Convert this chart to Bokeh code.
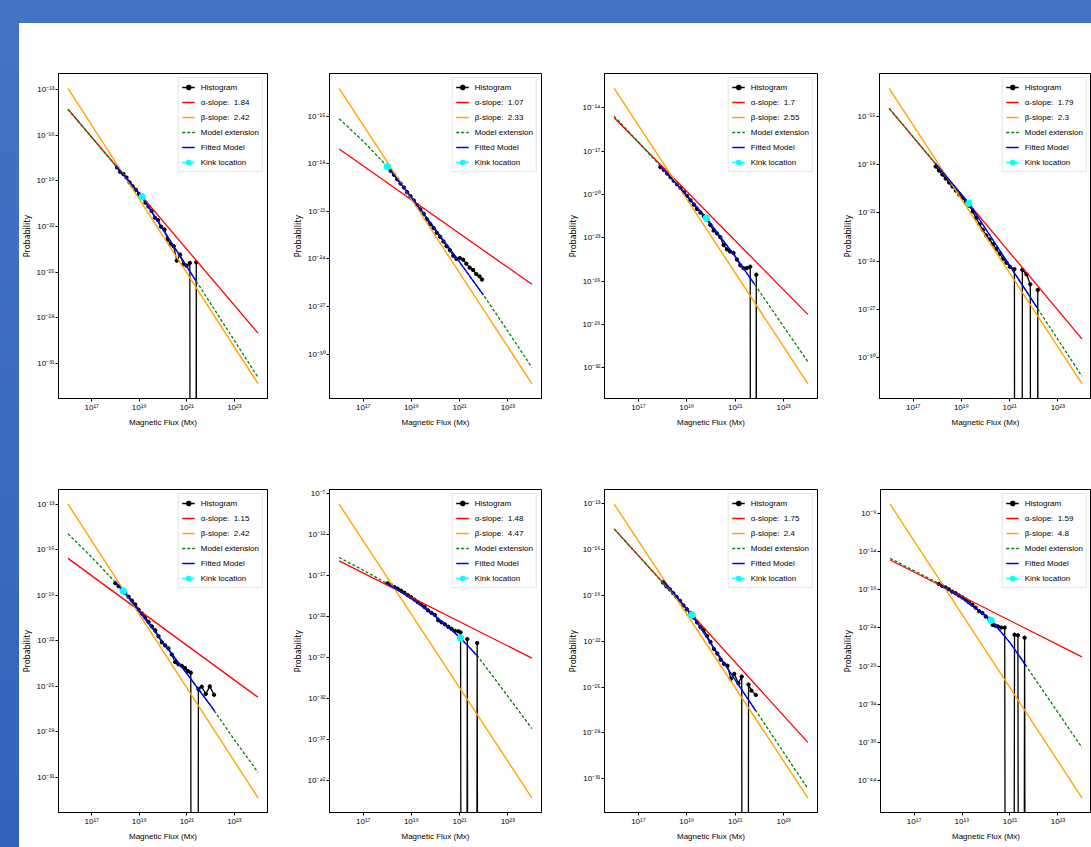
import numpy as np
from bokeh.plotting import figure
from bokeh.models import Range1d, FixedTicker, Legend, LegendItem, Spacer
from bokeh.layouts import row, column
from bokeh.embed import file_html
from bokeh.resources import INLINE

FONT = "Liberation Sans"
YFONT = "DejaVu Sans"

# ---------------- data (log10 exponents) ----------------
LINE_X = [16, 24]                 # x-extent (log10 Mx) of slope lines / model
X_TICKS = [17, 19, 21, 23]

ALPHA = ["1.84", "1.07", "1.7", "1.79", "1.15", "1.48", "1.75", "1.59"]
BETA = ["2.42", "2.33", "2.55", "2.3", "2.42", "4.47", "2.4", "4.8"]

# alpha (red) and beta (orange) reference lines: log10 P at x=1e16 and x=1e24
RED_Y = [[-14.3, -29.0], [-17.07, -25.6], [-14.69, -28.3], [-14.47, -28.85],
         [-16.57, -25.72], [-15.27, -27.12], [-14.64, -28.62], [-15.12, -27.78]]
ORANGE_Y = [[-12.92, -32.32], [-13.24, -31.87], [-12.65, -33.1], [-13.22, -31.65],
            [-13.0, -32.34], [-8.35, -44.15], [-13.02, -32.25], [-7.82, -46.2]]

# model extension (green dashed)
MODEL_X = [[16, 19.12, 24],
           [16, 17, 18, 19.08, 20, 21, 22, 23, 24],
           [16, 17, 18, 19, 19.81, 20, 21, 22, 23, 24],
           [16, 19.31, 24],
           [16, 17, 18, 18.33, 19, 20, 21, 22, 23, 24],
           [16, 17, 18.01, 19, 20, 21.04, 21.77, 22, 23, 24],
           [16, 19.21, 24],
           [16, 17, 18.03, 19, 20, 20.21, 21, 21.67, 22, 23, 24]]
MODEL_Y = [[-14.3, -20.05, -31.9],
           [-15.16, -16.58, -18.17, -20.28, -22.15, -24.2, -26.3, -28.55, -30.84],
           [-14.58, -16.38, -18.2, -20.07, -21.64, -22.02, -24.3, -26.7, -29.15, -31.57],
           [-14.47, -20.39, -31.18],
           [-14.94, -16.5, -18.15, -18.72, -20.05, -22.1, -24.15, -26.25, -28.5, -30.67],
           [-14.85, -16.4, -18.04, -19.85, -22.0, -24.67, -26.96, -27.86, -31.76, -35.71],
           [-14.64, -20.27, -31.65],
           [-14.91, -16.5, -18.19, -20.1, -22.45, -23.0, -25.92, -28.94, -30.45, -35.05, -39.63]]

# fitted model (blue)
FIT_X = [[18.03, 19.12, 21.4],
         [18.0, 19.08, 20, 21, 21.99],
         [17.91, 19, 19.81, 21, 21.81],
         [17.93, 19.31, 22.14],
         [17.99, 18.33, 19, 20, 21, 22, 22.17],
         [18.01, 19, 20, 21.04, 21.77],
         [18.02, 19.21, 21.85],
         [18.03, 19, 20, 20.21, 21, 21.67]]
FIT_Y = [[-18.04, -20.05, -25.6],
         [-18.17, -20.28, -22.15, -24.2, -26.28],
         [-18.04, -20.07, -21.64, -24.3, -26.24],
         [-17.92, -20.39, -26.9],
         [-18.13, -18.72, -20.05, -22.1, -24.15, -26.25, -26.62],
         [-18.04, -19.85, -22.0, -24.67, -26.96],
         [-18.0, -20.27, -26.55],
         [-18.19, -20.1, -22.45, -23.0, -25.92, -28.94]]

# kink location (cyan)
KINK_X = [19.12, 18.0, 19.81, 19.31, 18.33, 21.04, 19.21, 20.21]
KINK_Y = [-20.05, -18.17, -21.64, -20.39, -18.72, -24.67, -20.27, -23.0]

# histograms (None = empty bin, probability 0)
HIST_X = [
    [18.06, 18.19, 18.33, 18.46, 18.59, 18.72, 18.86, 18.99, 19.12, 19.26, 19.39, 19.52, 19.66, 19.79,
     19.92, 20.06, 20.19, 20.32, 20.45, 20.58, 20.72, 20.86, 20.99, 21.13, 21.26, 21.40, 21.53],
    [18.00, 18.14, 18.28, 18.41, 18.55, 18.69, 18.82, 18.96, 19.10, 19.23, 19.37, 19.51, 19.64, 19.78,
     19.92, 20.05, 20.19, 20.33, 20.46, 20.60, 20.74, 20.87, 21.01, 21.15, 21.28, 21.42, 21.56, 21.69,
     21.83, 21.93],
    [17.91, 18.05, 18.19, 18.33, 18.46, 18.60, 18.74, 18.88, 19.01, 19.15, 19.29, 19.42, 19.56, 19.70,
     19.84, 19.97, 20.11, 20.25, 20.38, 20.52, 20.66, 20.79, 20.93, 21.07, 21.21, 21.34, 21.48, 21.62,
     21.75, 21.87, 22.0],
    [17.93, 18.07, 18.21, 18.35, 18.49, 18.63, 18.77, 18.91, 19.05, 19.19, 19.33, 19.47, 19.61, 19.75,
     19.89, 20.03, 20.17, 20.31, 20.45, 20.59, 20.73, 20.87, 21.01, 21.20, 21.37, 21.53, 21.70, 21.86,
     22.01, 22.17, 22.32],
    [17.99, 18.13, 18.27, 18.41, 18.55, 18.69, 18.83, 18.97, 19.11, 19.25, 19.39, 19.53, 19.67, 19.81,
     19.95, 20.09, 20.23, 20.37, 20.51, 20.65, 20.79, 20.93, 21.05, 21.17, 21.32, 21.49, 21.63, 21.80,
     21.97, 22.15],
    [18.01, 18.15, 18.29, 18.43, 18.57, 18.71, 18.85, 18.99, 19.13, 19.27, 19.41, 19.55, 19.69, 19.83,
     19.97, 20.11, 20.25, 20.39, 20.53, 20.67, 20.81, 20.95, 21.04, 21.18, 21.32, 21.46, 21.6, 21.73,
     21.87],
    [18.02, 18.16, 18.30, 18.44, 18.58, 18.72, 18.86, 19.0, 19.14, 19.28, 19.42, 19.56, 19.70, 19.84,
     19.98, 20.12, 20.26, 20.40, 20.54, 20.68, 20.82, 20.96, 21.13, 21.27, 21.41, 21.55, 21.67, 21.85],
    [18.03, 18.17, 18.31, 18.45, 18.59, 18.73, 18.87, 19.01, 19.15, 19.29, 19.43, 19.57, 19.71, 19.85,
     19.99, 20.13, 20.28, 20.38, 20.50, 20.64, 20.78, 20.92, 21.05, 21.19, 21.33, 21.47, 21.61, 21.75],
]
HIST_Y = [
    [-18.11, -18.4, -18.55, -18.78, -19.1, -19.35, -19.59, -19.87, -20.05, -20.43, -20.69, -20.98, -21.42,
     -21.57, -22.01, -22.19, -22.85, -23.14, -23.29, -24.24, -23.84, -24.46, -24.57, -24.39, None, -24.35, None],
    [-18.17, -18.45, -18.7, -18.98, -19.25, -19.5, -19.8, -20.05, -20.32, -20.6, -20.88, -21.15, -21.5,
     -21.8, -22.05, -22.35, -22.6, -22.9, -23.2, -23.45, -23.8, -24.0, -23.95, -24.05, -24.3, -24.55, -24.7,
     -24.95, -25.1, -25.3],
    [-18.1, -18.3, -18.55, -18.8, -19.05, -19.3, -19.55, -19.85, -20.1, -20.4, -20.7, -21.0, -21.25, -21.5,
     -21.75, -22.1, -22.5, -22.7, -22.95, -23.5, -23.8, -23.95, -24.05, -24.5, -24.9, -25.1, -25.1, -25.0,
     None, -25.55, None],
    [-18.1, -18.35, -18.6, -18.85, -19.1, -19.35, -19.6, -19.85, -20.05, -20.3, -20.55, -20.9, -21.3, -21.7,
     -22.05, -22.4, -22.65, -22.95, -23.25, -23.55, -23.85, -24.1, -24.35, -24.5, None, -24.54, -24.82,
     -25.45, None, -25.8, None],
    [-18.2, -18.4, -18.65, -18.85, -19.1, -19.35, -19.6, -19.95, -20.2, -20.45, -20.75, -21.05, -21.3, -21.7,
     -22.1, -22.3, -22.5, -22.9, -23.4, -23.55, -23.65, -23.8, -24.0, -24.1, None, -25.17, -25.02, -25.5,
     -25.0, -25.55],
    [-18.0, -18.2, -18.45, -18.65, -18.9, -19.15, -19.45, -19.7, -20.0, -20.3, -20.55, -20.9, -21.3, -21.6,
     -21.85, -22.5, -22.75, -23.0, -23.3, -23.55, -23.8, -23.85, -23.98, None, -24.8, None, None, -25.28, None],
    [-18.15, -18.4, -18.6, -18.85, -19.1, -19.35, -19.65, -19.9, -20.15, -20.45, -20.75, -21.05, -21.25,
     -21.65, -22.05, -22.5, -22.8, -23.2, -23.48, -23.6, -24.46, -24.13, -24.75, -24.31, None, -24.83,
     -25.23, -25.51],
    [-18.25, -18.5, -18.7, -18.95, -19.25, -19.45, -19.75, -20.0, -20.3, -20.65, -20.95, -21.35, -21.8,
     -22.05, -22.5, -22.8, -23.6, -23.7, -23.8, -23.95, -23.95, None, None, -24.88, -24.96, None, -25.27, None],
]

Y_TICKS = [[-13, -16, -19, -22, -25, -28, -31],
           [-15, -18, -21, -24, -27, -30],
           [-14, -17, -20, -23, -26, -29, -32],
           [-15, -18, -21, -24, -27, -30],
           [-13, -16, -19, -22, -25, -28, -31],
           [-7, -12, -17, -22, -27, -32, -37, -42],
           [-13, -16, -19, -22, -25, -28, -31],
           [-9, -14, -19, -24, -29, -34, -39, -44]]

# ---------------- layout geometry ----------------
COLS = [(271, 34, 23), (275, 37, 24), (275, 38, 23), (251, 37, 0)]   # width, border left, border right
ROWS = [(422, 50, 47), (402, 44, 35)]                                 # height, border top, border bottom

SUP = str.maketrans("-0123456789", "⁻⁰¹²³⁴⁵⁶⁷⁸⁹")
FLOOR = 1e-300   # where an empty (zero) bin is drawn on the log axis


def p10(v):
    return [10.0 ** e for e in v]


def lab(e):
    return "10" + str(e).translate(SUP)


def build(i, w, bl, br, h, bt, bb):
    hx, hy = HIST_X[i], HIST_Y[i]
    logs = RED_Y[i] + ORANGE_Y[i] + MODEL_Y[i] + FIT_Y[i] + [y for y in hy if y is not None]
    lo, hi = min(logs), max(logs)
    pad = 0.05 * (hi - lo)
    xpad = 0.05 * (LINE_X[1] - LINE_X[0])
    p = figure(width=w, height=h, x_axis_type="log", y_axis_type="log",
               x_range=Range1d(10 ** (LINE_X[0] - xpad), 10 ** (LINE_X[1] + xpad)),
               y_range=Range1d(10 ** (lo - pad), 10 ** (hi + pad)),
               output_backend="svg", toolbar_location=None,
               min_border_left=bl, min_border_right=br, min_border_top=bt, min_border_bottom=bb)
    p.xgrid.visible = False
    p.ygrid.visible = False
    p.outline_line_color = "black"
    p.outline_line_width = 1
    p.background_fill_color = "white"
    p.border_fill_color = "white"

    hist_line_y = [FLOOR if y is None else 10.0 ** y for y in hy]
    mx = [10.0 ** x for x, y in zip(hx, hy) if y is not None]
    my = [10.0 ** y for y in hy if y is not None]
    r_hl = p.line(p10(hx), hist_line_y, line_color="black", line_width=1.3)
    r_hs = p.scatter(mx, my, marker="circle", size=3.4, fill_color="black", line_color="black")
    r_a = p.line(p10(LINE_X), p10(RED_Y[i]), line_color="#ff0000", line_width=1.3)
    r_b = p.line(p10(LINE_X), p10(ORANGE_Y[i]), line_color="#ffa500", line_width=1.4)
    r_m = p.line(p10(MODEL_X[i]), p10(MODEL_Y[i]), line_color="#008000", line_width=1.3, line_dash="3 2")
    r_f = p.line(p10(FIT_X[i]), p10(FIT_Y[i]), line_color="#0000ff", line_width=1.4)
    r_kl = p.line([10.0 ** KINK_X[i]], [10.0 ** KINK_Y[i]], line_color="#00ffff", line_width=1.3)
    r_ks = p.scatter([10.0 ** KINK_X[i]], [10.0 ** KINK_Y[i]], marker="circle", size=6.5,
                     fill_color="#00ffff", line_color="#00ffff")

    xt = p10(X_TICKS)
    p.xaxis.ticker = FixedTicker(ticks=xt)
    p.xaxis.major_label_overrides = {t: lab(e) for t, e in zip(xt, X_TICKS)}
    yt = p10(Y_TICKS[i])
    p.yaxis.ticker = FixedTicker(ticks=yt)
    p.yaxis.major_label_overrides = {t: lab(e) for t, e in zip(yt, Y_TICKS[i])}

    for ax in (p.xaxis, p.yaxis):
        ax.axis_line_color = "black"
        ax.major_tick_line_color = "black"
        ax.major_tick_out = 3
        ax.major_tick_in = 0
        ax.minor_tick_line_color = None
        ax.major_label_text_font = FONT
        ax.major_label_text_font_size = "8px"
        ax.major_label_text_color = "black"
        ax.major_label_standoff = 1
        ax.axis_label_text_font_style = "normal"
        ax.axis_label_text_color = "black"
        ax.axis_label_standoff = 3
    p.yaxis.axis_label_standoff = 2
    p.xaxis.axis_label = "Magnetic Flux (Mx)"
    p.xaxis.axis_label_text_font = FONT
    p.xaxis.axis_label_text_font_size = "8px"
    p.yaxis.axis_label = "Probability"
    p.yaxis.axis_label_text_font = YFONT
    p.yaxis.axis_label_text_font_size = "8px"

    legend = Legend(items=[
        LegendItem(label="Histogram", renderers=[r_hl, r_hs]),
        LegendItem(label="α-slope:  " + ALPHA[i], renderers=[r_a]),
        LegendItem(label="β-slope:  " + BETA[i], renderers=[r_b]),
        LegendItem(label="Model extension", renderers=[r_m]),
        LegendItem(label="Fitted Model", renderers=[r_f]),
        LegendItem(label="Kink location", renderers=[r_kl, r_ks]),
    ], location="top_right")
    legend.label_text_font = FONT
    legend.label_text_font_size = "8px"
    legend.label_text_color = "black"
    legend.glyph_width = 13
    legend.glyph_height = 12
    legend.label_height = 12
    legend.label_standoff = 6
    legend.padding = 3
    legend.spacing = 3
    legend.margin = 4
    legend.border_line_color = "#cccccc"
    legend.border_line_width = 1
    legend.background_fill_alpha = 0.85
    p.add_layout(legend)
    return p


rows = []
for r, (h, bt, bb) in enumerate(ROWS):
    figs = []
    for c, (w, bl, br) in enumerate(COLS):
        figs.append(build(r * 4 + c, w, bl, br, h, bt, bb))
    rows.append(row(*figs, spacing=0))
grid = column(*rows, spacing=0)

top = Spacer(width=1091, height=23, styles={"background-color": "#4472c4"})
left = Spacer(width=19, height=824, styles={"background": "linear-gradient(#4472c4, #3163bd)"})
root = column(top, row(left, grid, spacing=0), spacing=0)

open("out.html", "w").write(file_html(root, INLINE))
